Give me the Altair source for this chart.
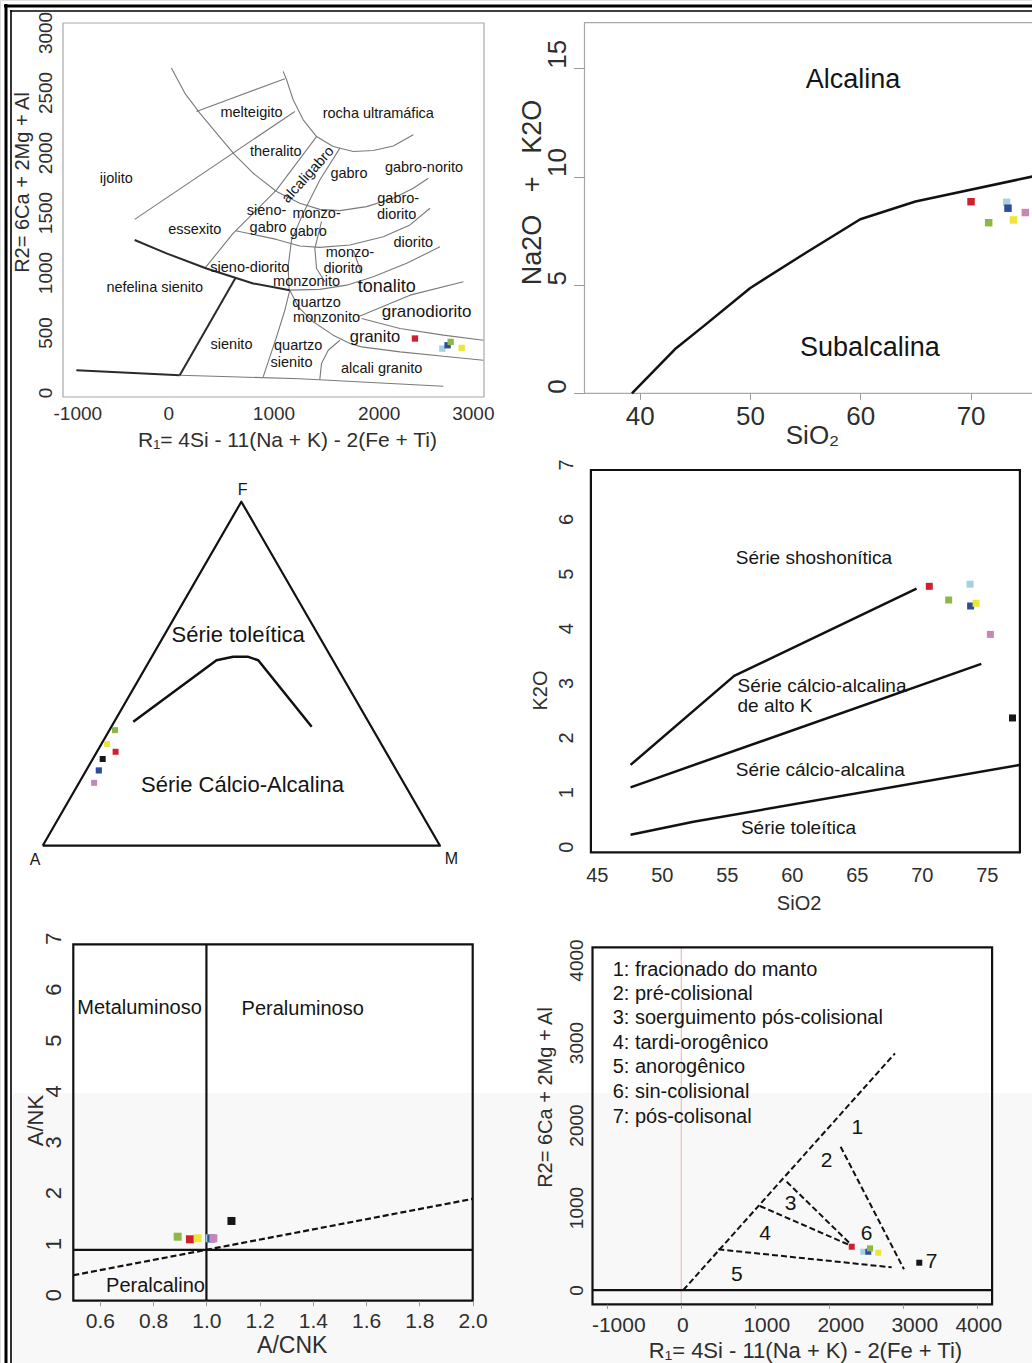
import math
import altair as alt
import pandas as pd

W, H = 1032, 1363
FONT = "Liberation Sans"
INK = "#151515"
AXC = "#2e2e2e"

COLORS = {
    "red": "#d21f2d", "green": "#8db848", "lightblue": "#a8d0e2",
    "darkblue": "#2c4d9c", "yellow": "#ece63a", "pink": "#c986b5", "black": "#161616",
}

# ---------------- Panel 1 : R1-R2 (De La Roche) ----------------
# values first read against the plot frame; P1_Y_CAL converts them to the
# scale given by the printed tick labels (0 ... 3000).
P1_Y_CAL = (1.0389, -37.5)
P1_THIN = [
    [(30, 2639), (157, 2438), (300, 2277), (458, 2116), (632, 1942), (807, 1795), (1029, 1648),
     (1250, 1554), (1440, 1505), (1631, 1495), (1884, 1527), (2138, 1594), (2328, 1674), (2471, 1755)],
    [(1092, 2612), (1124, 2545), (1187, 2384), (1282, 2223), (1409, 2089), (1567, 2009), (1758, 1969),
     (1948, 1977), (2138, 2014), (2328, 2103)],
    [(268, 2290), (1108, 2553)],
    [(-319, 1425), (1203, 2290)],
    [(1409, 2089), (1029, 1661), (616, 1313), (347, 1031)],
    [(1631, 1996), (1440, 1741), (1282, 1473), (1171, 1259), (1139, 1045), (1149, 857)],
    [(642, 1334), (1029, 1264), (1250, 1211), (1440, 1200), (1726, 1219), (2043, 1286), (2297, 1380), (2487, 1514)],
    [(1456, 1406), (1393, 1192), (1409, 1031), (1488, 924)],
    [(1155, 857), (1440, 863), (1694, 897), (1948, 964), (2265, 1072), (2582, 1205)],
    [(1758, 1179), (1837, 991)],
    [(1805, 643), (2297, 817), (2804, 924)],
    [(1837, 630), (2202, 549), (2614, 496), (2994, 455)],
    [(1837, 402), (2202, 362), (2614, 327), (2994, 295)],
    [(1155, 857), (1234, 723), (1377, 603), (1567, 496), (1726, 429), (1837, 402)],
    [(1440, 139), (1456, 268), (1520, 375), (1631, 455)],
    [(1155, 857), (1108, 696), (1029, 482), (902, 161)],
    [(109, 174), (1250, 147), (2614, 86)],
]
P1_BOLD = [
    [(-319, 1259), (-17, 1152), (363, 1031), (807, 911), (1155, 857)],
    [(640, 957), (109, 174)],
    [(-873, 214), (109, 174)],
]
P1_LABELS = [
    ("melteigito", 791, 2277, 14.5), ("rocha ultramáfica", 1996, 2269, 14.5),
    ("theralito", 1022, 1969, 14.5), ("gabro", 1717, 1787, 14.5),
    ("gabro-norito", 2430, 1840, 14.5), ("ijolito", -493, 1747, 14.5),
    ("gabro-", 2185, 1589, 14.5), ("diorito", 2170, 1460, 14.5),
    ("sieno-", 934, 1495, 14.5), ("gabro", 949, 1358, 14.5),
    ("monzo-", 1409, 1468, 14.5), ("gabro", 1330, 1326, 14.5),
    ("essexito", 252, 1339, 14.5), ("diorito", 2328, 1232, 14.5),
    ("monzo-", 1726, 1152, 14.5), ("diorito", 1662, 1026, 14.5),
    ("sieno-diorito", 775, 1031, 14.5), ("monzonito", 1314, 924, 14.5),
    ("nefelina sienito", -128, 871, 14.5), ("tonalito", 2075, 884, 18),
    ("quartzo", 1409, 755, 14.5), ("monzonito", 1504, 630, 14.5),
    ("granodiorito", 2455, 678, 17), ("granito", 1964, 482, 16.5),
    ("sienito", 601, 415, 14.5), ("quartzo", 1235, 407, 14.5),
    ("sienito", 1171, 273, 14.5), ("alcali granito", 2027, 228, 14.5),
]
P1_TILTED = [("alcaligabro", 1330, 1781, 14.5)]
P1_SAMPLES = ["red", "lightblue", "darkblue", "green", "yellow"]
P1_R1 = [2344, 2604, 2654, 2683, 2788]
P1_R2 = [469, 388, 415, 442, 394]
P1_X_TICKS = [-1000, 0, 1000, 2000, 3000]
P1_Y_TICKS = [0, 500, 1000, 1500, 2000, 2500, 3000]

# ---------------- Panel 2 : TAS ----------------
P2_LINE_SIO2 = [39.3, 43.3, 45.8, 50, 55, 60, 65, 75.6, 80]
P2_LINE_ALK = [0, 2.08, 3.1, 4.85, 6.46, 8.03, 8.85, 10.0, 10.4]
P2_SAMPLES = ["red", "green", "lightblue", "darkblue", "yellow", "pink"]
P2_SIO2 = [70.04, 71.64, 73.27, 73.39, 73.88, 74.96]
P2_ALK = [8.84, 7.87, 8.81, 8.54, 8.0, 8.34]
P2_LABELS = [("Alcalina", 59.34, 14.46, 27), ("Subalcalina", 60.87, 2.1, 27)]
P2_X_TICKS = [40, 50, 60, 70]
P2_Y_TICKS = [0, 5, 10, 15]

# ---------------- Panel 3 : AFM ternary ----------------
P3_CURVE_A = [0.592, 0.293, 0.246, 0.208, 0.188, 0.150]
P3_CURVE_F = [0.360, 0.539, 0.549, 0.549, 0.539, 0.346]
P3_CURVE_M = [0.048, 0.168, 0.205, 0.243, 0.273, 0.504]
P3_SAMPLES = ["green", "yellow", "red", "black", "lightblue", "darkblue", "pink"]
P3_A = [0.650, 0.690, 0.680, 0.723, 0.751, 0.749, 0.780]
P3_F = [0.336, 0.296, 0.273, 0.252, 0.218, 0.219, 0.183]
P3_M = [0.014, 0.014, 0.047, 0.025, 0.031, 0.032, 0.038]
P3_TEXT = [("Série toleítica", 0.492, 0.530, 22), ("Série Cálcio-Alcalina", 0.503, 0.153, 22),
           ("F", 0.503, 0.8955, 16), ("A", -0.019, -0.036, 16), ("M", 1.029, -0.034, 16)]

# ---------------- Panel 4 : K2O x SiO2 ----------------
P4_LINES = [
    [(47.6, 1.60), (55.57, 3.23), (69.6, 4.83)],
    [(47.6, 1.19), (74.58, 3.45)],
    [(47.6, 0.32), (52.44, 0.56), (77.55, 1.60)],
]
P4_SAMPLES = ["red", "lightblue", "green", "darkblue", "yellow", "pink", "black"]
P4_SIO2 = [70.58, 73.72, 72.07, 73.76, 74.18, 75.28, 76.98]
P4_K2O = [4.87, 4.91, 4.62, 4.51, 4.56, 3.99, 2.46]
P4_CENTER_TEXT = [("Série shoshonítica", 61.71, 5.38, 19)]
P4_LEFT_TEXT = [("Série cálcio-alcalina", 55.83, 3.05, 19), ("de alto K", 55.83, 2.67, 19),
                ("Série cálcio-alcalina", 55.70, 1.51, 19), ("Série toleítica", 56.09, 0.44, 19)]
P4_X_TICKS = [45, 50, 55, 60, 65, 70, 75]
P4_Y_TICKS = [0, 1, 2, 3, 4, 5, 6, 7]

# ---------------- Panel 5 : Shand ----------------
P5_SOLID = [[(1.0, 0), (1.0, 7)], [(0.5, 1), (2.0, 1)]]
P5_DASHED = [[(0.5, 0.5), (2.0, 2.0)]]
P5_SAMPLES = ["green", "red", "yellow", "lightblue", "darkblue", "pink", "black"]
P5_ACNK = [0.892, 0.938, 0.967, 1.012, 1.018, 1.026, 1.094]
P5_ANK = [1.257, 1.206, 1.226, 1.226, 1.222, 1.226, 1.566]
P5_TEXT = [("Metaluminoso", 0.515, 5.74, 20), ("Peraluminoso", 1.132, 5.73, 20), ("Peralcalino", 0.623, 0.295, 20)]
P5_X_TICKS = [0.6, 0.8, 1.0, 1.2, 1.4, 1.6, 1.8, 2.0]
P5_Y_TICKS = [0, 1, 2, 3, 4, 5, 6, 7]

# ---------------- Panel 6 : Batchelor & Bowden ----------------
P6_DASHED = [
    [(27, 0), (2888, 2869)],
    [(500, 493), (2843, 275)],
    [(2153, 1737), (3009, 251)],
    [(1063, 1018), (2324, 525)],
    [(1424, 1313), (2324, 525)],
]
P6_ZERO_H = [[(-1200, 0), (4200, 0)]]
P6_ZERO_V = [[(0, -173), (0, 4154)]]
P6_LEGEND = [
    ("1: fracionado do manto", -927, 3879, 20), ("2: pré-colisional", -927, 3588, 20),
    ("3: soerguimento pós-colisional", -927, 3293, 20), ("4: tardi-orogênico", -927, 2990, 20),
    ("5: anorogênico", -927, 2699, 20), ("6: sin-colisional", -927, 2404, 20),
    ("7: pós-colisonal", -927, 2101, 20),
]
P6_NUMBERS = [("1", 2378, 1960, 21), ("2", 1965, 1567, 21), ("3", 1478, 1042, 21), ("4", 1131, 679, 21),
              ("5", 749, 182, 21), ("6", 2505, 679, 21), ("7", 3384, 343, 21)]
P6_SAMPLES = ["red", "lightblue", "darkblue", "green", "yellow", "black"]
P6_R1 = [2303, 2459, 2527, 2550, 2662, 3216]
P6_R2 = [525, 464, 464, 505, 452, 331]
P6_X_TICKS_SHIFTED = [-1000, 1000, 2000, 3000]   # printed a little right of their ticks
P6_X_TICKS_CENTERED = [0, 4000]
P6_Y_TICKS = [0, 1000, 2000, 3000, 4000]


# ---------------- helpers ----------------
def cal1(v):
    return round(P1_Y_CAL[0] * v + P1_Y_CAL[1], 1)


def lines_df(segs, ycal=None):
    rows = []
    for s, pts in enumerate(segs):
        for i, (x, y) in enumerate(pts):
            rows.append({"seg": s, "i": i, "x": x, "y": ycal(y) if ycal else y})
    return pd.DataFrame(rows)


def pts_df(xs, ys, names):
    return pd.DataFrame({"x": xs, "y": ys, "c": [COLORS[n] for n in names]})


def text_df(items, ycal=None):
    df = pd.DataFrame(items, columns=["t", "x", "y", "s"])
    if ycal:
        df["y"] = [ycal(v) for v in df["y"]]
    return df


def scale(dom, rng):
    return alt.Scale(domain=dom, range=rng, nice=False, zero=False)


def bottom_axis(axis_y, values, title, tx, ty, lsize, tsize, pad, tick=0, fmt=None, expr=None,
                flush=False, flush_offset=0, loffset=0):
    kw = dict(orient="bottom", offset=axis_y - H, values=values, zindex=1,
              titleX=tx, titleY=ty - axis_y, titleAlign="center", titleBaseline="middle", titleAngle=0,
              titleFont=FONT, titleFontSize=tsize, titleFontWeight="normal", titleColor=AXC,
              labelFont=FONT, labelFontSize=lsize, labelColor=AXC, labelPadding=pad,
              labelBaseline="middle", labelAngle=0, labelOffset=loffset,
              labelFlush=flush, labelOverlap=False, labelBound=False,
              ticks=tick > 0, tickSize=tick, tickColor="#999999", domain=False, grid=False)
    kw["title"] = title
    if flush:
        kw["labelFlushOffset"] = flush_offset
    if fmt:
        kw["format"] = fmt
    if expr:
        kw["labelExpr"] = expr
    return alt.Axis(**kw)


def left_axis(axis_x, values, title, tx, ty, lsize, tsize, pad, align, tick=0, expr=None, loffset=0):
    kw = dict(orient="left", offset=-axis_x, values=values, title=title, zindex=1,
              titleX=tx - axis_x, titleY=ty, titleAlign="center", titleBaseline="middle", titleAngle=270,
              titleFont=FONT, titleFontSize=tsize, titleFontWeight="normal", titleColor=AXC,
              labelFont=FONT, labelFontSize=lsize, labelColor=AXC, labelPadding=pad,
              labelBaseline="middle", labelAlign=align, labelAngle=270, labelOffset=loffset,
              labelFlush=False, labelOverlap=False, labelBound=False,
              ticks=tick > 0, tickSize=tick, tickColor="#999999", domain=False, grid=False)
    if expr:
        kw["labelExpr"] = expr
    return alt.Axis(**kw)


def xy(sx, sy, ax, ay):
    return dict(x=alt.X("x:Q", scale=sx, axis=ax), y=alt.Y("y:Q", scale=sy, axis=ay))


def line_layer(segs, enc, color, width, dash=None, ycal=None):
    kw = dict(color=color, strokeWidth=width, strokeJoin="round")
    if dash:
        kw["strokeDash"] = dash
    return alt.Chart(lines_df(segs, ycal)).mark_line(**kw).encode(**enc, detail="seg:N", order="i:Q")


def point_layer(df, enc, size):
    return alt.Chart(df).mark_square(size=size, opacity=1).encode(
        **enc, color=alt.Color("c:N", scale=None))


def text_layer(items, enc, align="center", color=INK, angle=None, ycal=None):
    kw = dict(align=align, baseline="middle", font=FONT, color=color)
    if angle is not None:
        kw["angle"] = angle
    return alt.Chart(text_df(items, ycal)).mark_text(**kw).encode(
        **enc, text="t:N", size=alt.Size("s:Q", scale=None))


def frame_layer(x0, x1, y0, y1, enc, color, width):
    df = pd.DataFrame({"x": [x0], "x2": [x1], "y": [y0], "y2": [y1]})
    return alt.Chart(df).mark_rect(filled=False, color=color, strokeWidth=width).encode(
        **enc, x2="x2:Q", y2="y2:Q")


NUM = "'' + datum.value"

# ---------------- Panel 1 ----------------
P1_YDOM = [-37.5, 3079]
E1 = xy(scale([-1000, 3000], [63, 484]), scale(P1_YDOM, [397, 23]),
        bottom_axis(397, P1_X_TICKS, "R₁= 4Si - 11(Na + K) - 2(Fe + Ti)", 287, 440, 19, 21, 16, expr=NUM,
                    flush=True, flush_offset=10),
        left_axis(63, P1_Y_TICKS, "R2= 6Ca + 2Mg + Al", 22, 182, 19, 20, 18, "center", expr=NUM))
p1 = alt.layer(
    frame_layer(-1000, 3000, P1_YDOM[0], P1_YDOM[1], E1, "#a8a8a8", 1.2),
    line_layer(P1_THIN, E1, "#7a7a7a", 1.1, ycal=cal1),
    line_layer(P1_BOLD, E1, "#2a2a2a", 2.0, ycal=cal1),
    text_layer(P1_LABELS, E1, ycal=cal1),
    text_layer(P1_TILTED, E1, angle=312, ycal=cal1),
    point_layer(pts_df(P1_R1, [cal1(v) for v in P1_R2], P1_SAMPLES), E1, 40),
)

# ---------------- Panel 2 ----------------
E2 = xy(scale([35, 80], [584.5, 1080.9]), scale([0, 17.1], [393.3, 22.7]),
        bottom_axis(393.3, P2_X_TICKS, "SiO₂", 812, 435, 26, 26, 17, tick=6),
        left_axis(584.5, P2_Y_TICKS, "Na2O\u00a0\u00a0\u00a0+\u00a0\u00a0\u00a0K2O", 532, 192, 26, 27, 16, "left", tick=11))
p2 = alt.layer(
    frame_layer(35, 80, 0, 17.1, E2, "#a8a8a8", 1.2),
    line_layer([list(zip(P2_LINE_SIO2, P2_LINE_ALK))], E2, "#111111", 2.5),
    text_layer(P2_LABELS, E2),
    point_layer(pts_df(P2_SIO2, P2_ALK, P2_SAMPLES), E2, 56),
)


# ---------------- Panel 3 (ternary) ----------------
def tern(a, f, m):
    s = a + f + m
    return (m / s + 0.5 * f / s, (f / s) * math.sqrt(3) / 2)


E3 = xy(scale([0, 1], [42.7, 440]), scale([0, math.sqrt(3) / 2], [845.7, 501.7]), None, None)
tri = [tern(1, 0, 0), tern(0, 0, 1), tern(0, 1, 0), tern(1, 0, 0)]
curve = [tern(a, f, m) for a, f, m in zip(P3_CURVE_A, P3_CURVE_F, P3_CURVE_M)]
p3pts = [tern(a, f, m) for a, f, m in zip(P3_A, P3_F, P3_M)]
p3 = alt.layer(
    line_layer([tri], E3, "#111111", 2.2),
    line_layer([curve], E3, "#111111", 2.5),
    text_layer(P3_TEXT, E3),
    point_layer(pts_df([p[0] for p in p3pts], [p[1] for p in p3pts], P3_SAMPLES), E3, 36),
)

# ---------------- Panel 4 ----------------
E4 = xy(scale([44.55, 77.55], [590.9, 1019.9]), scale([0, 7], [852.3, 470]),
        bottom_axis(852.3, P4_X_TICKS, "SiO2", 798.6, 903.3, 20, 20, 22.7),
        left_axis(590.9, P4_Y_TICKS, "K2O", 540.7, 690, 20, 20, 24.7, "left"))
p4 = alt.layer(
    frame_layer(44.55, 77.55, 0, 7, E4, "#111111", 2.2),
    line_layer(P4_LINES, E4, "#111111", 2.5),
    text_layer(P4_CENTER_TEXT, E4),
    text_layer(P4_LEFT_TEXT, E4, align="left"),
    point_layer(pts_df(P4_SIO2, P4_K2O, P4_SAMPLES), E4, 49),
)

# ---------------- Panel 5 ----------------
E5 = xy(scale([0.5, 2.0], [73.3, 472.7]), scale([0, 7], [1300.7, 944.3]),
        bottom_axis(1300.7, P5_X_TICKS, "A/CNK", 291.7, 1345.5, 21, 23, 16, tick=5, fmt=".1f"),
        left_axis(73.3, P5_Y_TICKS, "A/NK", 35, 1120, 22, 22, 20, "left"))
p5 = alt.layer(
    frame_layer(0.5, 2.0, 0, 7, E5, "#111111", 2.2),
    line_layer(P5_SOLID, E5, "#111111", 2.2),
    line_layer(P5_DASHED, E5, "#111111", 2.2, dash=[6, 3]),
    text_layer(P5_TEXT, E5, align="left"),
    point_layer(pts_df(P5_ACNK, P5_ANK, P5_SAMPLES), E5, 64),
)

# ---------------- Panel 6 ----------------
P6_XDOM, P6_XRNG = [-1200, 4200], [592.5, 992.1]
P6_YDOM, P6_YRNG = [-173, 4154], [1304.3, 947.3]
E6 = xy(scale(P6_XDOM, P6_XRNG), scale(P6_YDOM, P6_YRNG),
        bottom_axis(1304.3, P6_X_TICKS_SHIFTED, "R₁= 4Si - 11(Na + K) - 2(Fe + Ti)", 805, 1350, 21, 22, 17,
                    tick=4, expr=NUM, loffset=11),
        left_axis(592.7, P6_Y_TICKS, "R2= 6Ca + 2Mg + Al", 545, 1097, 19, 20, 16, "center", expr=NUM))
p6 = alt.layer(
    frame_layer(-1200, 4200, -173, 4154, E6, "#111111", 2.2),
    line_layer(P6_ZERO_H, E6, "#111111", 2.2),
    line_layer(P6_DASHED, E6, "#111111", 2.0, dash=[6, 3]),
    text_layer(P6_LEGEND, E6, align="left"),
    text_layer(P6_NUMBERS, E6),
    point_layer(pts_df(P6_R1, P6_R2, P6_SAMPLES), E6, 36),
)
# second x axis of the same panel (same scale) for the labels centred on their ticks
E6B = xy(scale(P6_XDOM, P6_XRNG), scale(P6_YDOM, P6_YRNG),
         bottom_axis(1304.3, P6_X_TICKS_CENTERED, None, 805, 1350, 21, 22, 17, tick=4, expr=NUM, loffset=1),
         None)
p6b = alt.layer(line_layer(P6_ZERO_V, E6B, "#e6c3b2", 1.2))


# ---------------- page decoration: scan tint of the lower band, double border ----------------
def band(x0, x1, y0, y1, color):
    return alt.Chart(pd.DataFrame({"k": [0]})).mark_rect(color=color).encode(
        x=alt.value(x0), x2=alt.value(x1), y=alt.value(y0), y2=alt.value(y1))


def rule(x0, x1, y0, y1, w):
    return alt.Chart(pd.DataFrame({"k": [0]})).mark_rule(color="#000000", strokeWidth=w).encode(
        x=alt.value(x0), x2=alt.value(x1), y=alt.value(y0), y2=alt.value(y1))


tint = band(13, W, 1093, H, "#f8f8f8")
frame = [rule(4, W, 6, 6, 3), rule(10, W, 11, 11, 1.6), rule(6, 6, 4, H, 3), rule(11, 11, 10, H, 1.6)]

chart = alt.layer(tint, p1, p2, p3, p4, p5, p6b, p6, *frame).resolve_scale(
    x="independent", y="independent").resolve_axis(
    x="independent", y="independent").properties(
    width=W, height=H, autosize=alt.AutoSizeParams(type="none"), padding=0, background="white"
).configure_view(stroke=None).configure(font=FONT)

chart.save("out.html", embed_options={"renderer": "svg", "actions": False})
